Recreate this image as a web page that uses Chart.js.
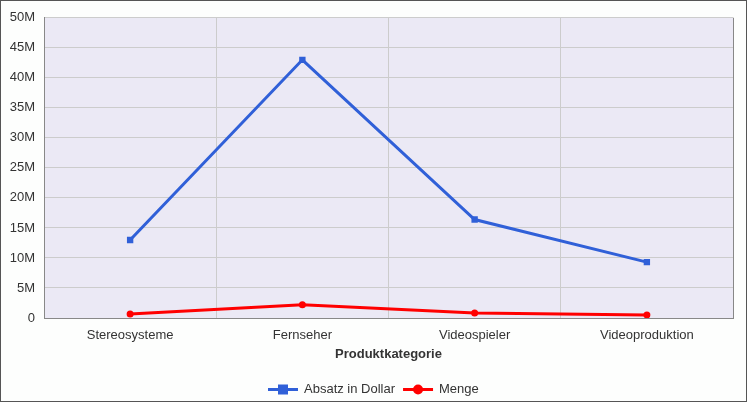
<!DOCTYPE html>
<html>
<head>
<meta charset="utf-8">
<script src="https://cdn.jsdelivr.net/npm/chart.js@4"></script>
<style>
  body { margin: 0; background: #fff; }
  #wrap { width: 747px; height: 402px; box-sizing: border-box; border: 1px solid #555; background: #fdfefd; }
  canvas { display: block; }
</style>
</head>
<body>
<div id="wrap"><canvas id="chart" width="745" height="400"></canvas></div>
<script>
const categories = ['Stereosysteme', 'Fernseher', 'Videospieler', 'Videoproduktion']
const absatzDollar = [13000000, 43000000, 16400000, 9300000]
const menge = [650000, 2200000, 850000, 500000]
const yTicks = [0, 5e6, 10e6, 15e6, 20e6, 25e6, 30e6, 35e6, 40e6, 45e6, 50e6]

const blue = '#3060d8'
const red = '#ff0000'
const font = "'Liberation Sans', Arial, sans-serif"

// plot background and frame
const plotBg = {
  id: 'plotBg',
  beforeDraw(chart) {
    const { ctx, chartArea: a } = chart
    ctx.save()
    ctx.fillStyle = '#ebe9f5'
    ctx.fillRect(a.left, a.top, a.right - a.left, a.bottom - a.top)
    ctx.restore()
  },
  afterDatasetsDraw(chart) {
    const { ctx, chartArea: a } = chart
    ctx.save()
    ctx.strokeStyle = '#888'
    ctx.lineWidth = 1
    ctx.beginPath()
    ctx.moveTo(a.right + 0.5, a.top)
    ctx.lineTo(a.right + 0.5, a.bottom)
    ctx.stroke()
    ctx.restore()
  }
}

// legend with line + marker
const lineLegend = {
  id: 'lineLegend',
  afterDraw(chart) {
    const ctx = chart.ctx
    ctx.save()
    ctx.font = '13px ' + font
    ctx.textBaseline = 'middle'
    const items = chart.data.datasets.map(ds => ({
      text: ds.label, color: ds.borderColor, style: ds.pointStyle,
      w: 30 + 6 + ctx.measureText(ds.label).width
    }))
    const gap = 8
    const total = items.reduce((s, it) => s + it.w, 0) + gap * (items.length - 1)
    let x = Math.round(chart.width / 2 - total / 2)
    const y = chart.height - 11.5
    items.forEach(it => {
      ctx.strokeStyle = it.color
      ctx.fillStyle = it.color
      ctx.lineWidth = 3
      ctx.beginPath()
      ctx.moveTo(x, y)
      ctx.lineTo(x + 30, y)
      ctx.stroke()
      if (it.style === 'rect') {
        ctx.fillRect(x + 15 - 5, y - 5, 10, 10)
      } else {
        ctx.beginPath()
        ctx.arc(x + 15, y, 5, 0, Math.PI * 2)
        ctx.fill()
      }
      ctx.fillStyle = '#333'
      ctx.fillText(it.text, x + 36, y)
      x += it.w + gap
    })
    ctx.restore()
  }
}

new Chart(document.getElementById('chart'), {
  type: 'line',
  data: {
    labels: categories,
    datasets: [{
      label: 'Absatz in Dollar',
      data: absatzDollar,
      borderColor: blue,
      backgroundColor: blue,
      borderWidth: 3,
      pointStyle: 'rect',
      pointRadius: 4.5,
      pointBorderWidth: 0
    }, {
      label: 'Menge',
      data: menge,
      borderColor: red,
      backgroundColor: red,
      borderWidth: 3,
      pointStyle: 'circle',
      pointRadius: 3.5,
      pointBorderWidth: 0
    }]
  },
  options: {
    responsive: false,
    animation: false,
    layout: { padding: { left: 0, right: 13, top: 16, bottom: 39 } },
    plugins: { legend: { display: false }, tooltip: { enabled: false } },
    elements: { line: { tension: 0 } },
    scales: {
      x: {
        offset: true,
        afterFit(scale) { scale.height = 44 },
        grid: { offset: true, color: '#cccccc', drawTicks: false },
        border: { color: '#888' },
        ticks: { color: '#333', font: { family: font, size: 13 }, padding: 10, maxRotation: 0 },
        title: {
          display: true, text: 'Produktkategorie', color: '#333',
          font: { family: font, size: 13, weight: 'bold' }, padding: { top: 0, bottom: 0 }
        }
      },
      y: {
        min: 0, max: 50e6,
        afterBuildTicks(scale) { scale.ticks = yTicks.map(v => ({ value: v })) },
        afterFit(scale) { scale.width = 43 },
        grid: { color: '#cccccc', drawTicks: false },
        border: { color: '#888' },
        ticks: {
          color: '#333', font: { family: font, size: 13 }, padding: 9,
          callback: v => v === 0 ? '0' : (v / 1e6) + 'M'
        }
      }
    }
  },
  plugins: [plotBg, lineLegend]
})
</script>
</body>
</html>
